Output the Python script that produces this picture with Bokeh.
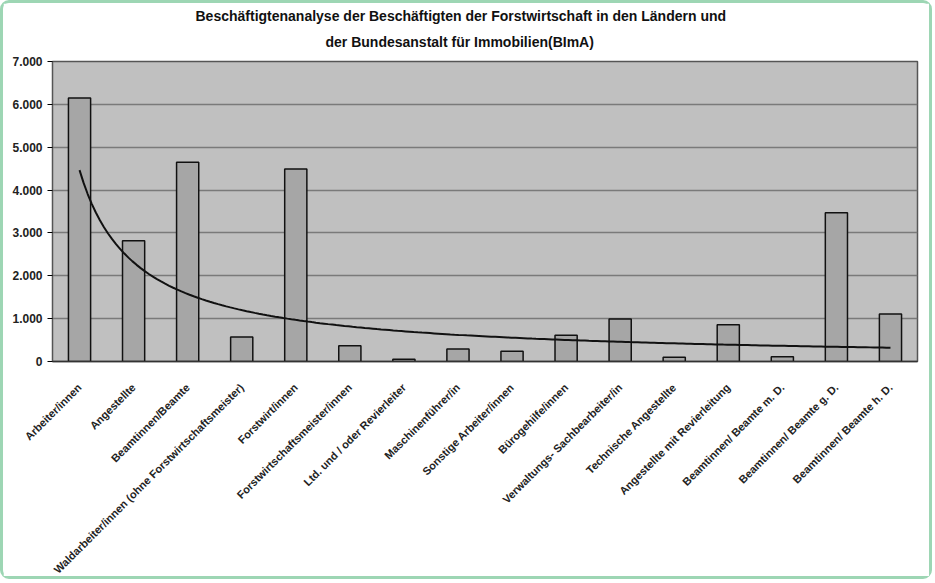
import numpy as np
from bokeh.plotting import figure
from bokeh.models import Title, FixedTicker, ColumnDataSource
from bokeh.embed import file_html
from bokeh.resources import INLINE

title_lines = [
    "Beschäftigtenanalyse der Beschäftigten der Forstwirtschaft in den Ländern und",
    "der Bundesanstalt für Immobilien(BImA)",
]
categories = [
    "Arbeiter/innen",
    "Angestellte",
    "Beamtinnen/Beamte",
    "Waldarbeiter/innen (ohne Forstwirtschaftsmeister)",
    "Forstwirt/innen",
    "Forstwirtschaftsmeister/innen",
    "Ltd. und / oder Revierleiter",
    "Maschinenführer/in",
    "Sonstige Arbeiter/innen",
    "Bürogehilfe/innen",
    "Verwaltungs- Sachbearbeiter/in",
    "Technische Angestellte",
    "Angestellte mit Revierleitung",
    "Beamtinnen/ Beamte m. D.",
    "Beamtinnen/ Beamte g. D.",
    "Beamtinnen/ Beamte h. D.",
]
values = [6150, 2820, 4650, 570, 4490, 370, 50, 290, 240, 610, 990, 100, 860, 110, 3470, 1110]
y_ticks = [0, 1000, 2000, 3000, 4000, 5000, 6000, 7000]
y_tick_labels = ["0", "1.000", "2.000", "3.000", "4.000", "5.000", "6.000", "7.000"]

FONT = "Liberation Sans"

x = list(range(1, len(categories) + 1))
src = ColumnDataSource(dict(x=x, top=values))

p = figure(
    width=932, height=579,
    x_range=(0.5, len(categories) + 0.5), y_range=(0, 7000),
    output_backend="svg", toolbar_location=None,
    min_border_left=49, min_border_right=18, min_border_top=58, min_border_bottom=213,
    background_fill_color="#c0c0c0", border_fill_color="white",
)
p.styles = {"border": "3px solid #9dd6b4", "border-radius": "9px"}

# titles (first added is closest to the plot)
for txt, so, off in [(title_lines[1], 24, 273), (title_lines[0], -8, 143)]:
    p.add_layout(Title(text=txt, align="left", offset=off, text_font=FONT,
                       text_font_size="14px", text_font_style="bold",
                       text_color="#111111", standoff=so), "above")

p.vbar(x="x", top="top", width=0.41, source=src, fill_color="#a6a6a6",
       line_color="#111111", line_width=1.5)

# power trendline (least squares on log-log, as a spreadsheet power trend)
b, ln_a = np.polyfit(np.log(x), np.log(values), 1)
xt = np.linspace(1, len(categories), 200)
yt = np.exp(ln_a) * xt ** b
p.line(xt, yt, line_color="#111111", line_width=2)

p.outline_line_color = "#555555"
p.outline_line_width = 1.5

p.xgrid.visible = False
p.ygrid.grid_line_color = "#7a7a7a"
p.ygrid.grid_line_width = 1.5
p.ygrid.ticker = FixedTicker(ticks=y_ticks)

p.yaxis.ticker = FixedTicker(ticks=y_ticks)
p.yaxis.major_label_overrides = {t: l for t, l in zip(y_ticks, y_tick_labels)}
p.yaxis.minor_tick_line_color = None
p.yaxis.major_tick_in = 0
p.yaxis.major_tick_out = 5
p.yaxis.axis_line_color = "#555555"
p.yaxis.major_label_text_font = FONT
p.yaxis.major_label_text_font_size = "12px"
p.yaxis.major_label_text_font_style = "bold"
p.yaxis.major_label_text_color = "#222222"
p.yaxis.major_label_standoff = 5

p.xaxis.ticker = FixedTicker(ticks=x)
p.xaxis.major_label_overrides = {i: c for i, c in zip(x, categories)}
p.xaxis.major_label_orientation = np.pi / 4
p.xaxis.minor_tick_line_color = None
p.xaxis.major_tick_line_color = None
p.xaxis.axis_line_color = "#333333"
p.xaxis.axis_line_width = 1.5
p.xaxis.major_label_text_font = FONT
p.xaxis.major_label_text_font_size = "11px"
p.xaxis.major_label_text_font_style = "bold"
p.xaxis.major_label_text_color = "#222222"
p.xaxis.major_label_standoff = 18

open("out.html", "w").write(file_html(p, INLINE))
